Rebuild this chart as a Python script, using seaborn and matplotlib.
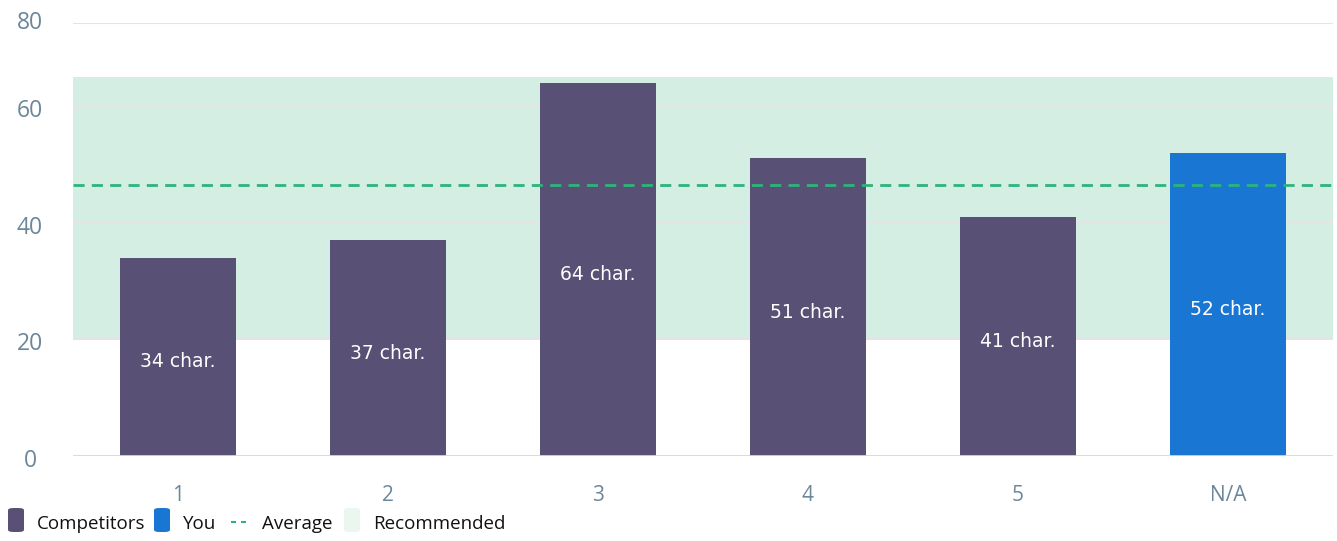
import matplotlib
matplotlib.use("Agg")
import matplotlib.pyplot as plt
import matplotlib.transforms as mtransforms
import seaborn as sns
import pandas as pd
from matplotlib.patches import FancyBboxPatch
from matplotlib.lines import Line2D

categories = ["1", "2", "3", "4", "5", "N/A"]
values = [34, 37, 64, 51, 41, 52]
groups = ["Competitors", "Competitors", "Competitors", "Competitors", "Competitors", "You"]
bar_labels = ["34 char.", "37 char.", "64 char.", "51 char.", "41 char.", "52 char."]
recommended = (20, 65)
ytick_vals = [0, 20, 40, 60, 74.2]
ytick_labels = ["0", "20", "40", "60", "80"]
legend_labels = ["Competitors", "You", "Average", "Recommended"]

c_comp = "#585175"
c_you = "#1a76d3"
c_avg = "#2db47c"
c_band = "#d5eee4"
c_tick = "#6b8799"

sns.set_theme(style="white")
plt.rcParams["font.family"] = ["Open Sans", "DejaVu Sans"]

df = pd.DataFrame({"cat": categories, "val": values, "grp": groups})
avg = sum(values) / len(values)

fig = plt.figure(figsize=(13.37, 5.41), dpi=100)
ax = fig.add_axes([73 / 1337, 1 - 456 / 541, (1333 - 73) / 1337, (456 - 23) / 541])

ax.axhspan(recommended[0], recommended[1], color=c_band, zorder=0, lw=0)
for v in ytick_vals[1:]:
    ax.axhline(v, color="#e4e4e4", lw=1.5, zorder=0.5)

sns.barplot(data=df, x="cat", y="val", hue="grp", palette={"Competitors": c_comp, "You": c_you},
            dodge=False, width=0.555, ax=ax, legend=False, zorder=2, saturation=1, linewidth=0)

for i, (v, lab) in enumerate(zip(values, bar_labels)):
    ax.annotate(lab, (i, v / 2), xytext=(0, -5), textcoords="offset pixels",
                ha="center", va="center", color="white", fontsize=13.5,
                family="DejaVu Sans", zorder=3)

ax.axhline(avg, color=c_avg, lw=2, ls=(0, (4, 2.6)), zorder=4)
ax.axhline(0, color="#cfd8e4", lw=2, zorder=5)

ax.set_ylim(0, 74.2)
ax.set_xlim(-0.5, len(categories) - 0.5)
ax.set_yticks(ytick_vals)
ax.set_yticklabels(ytick_labels)
ax.tick_params(axis="y", length=0, pad=31, labelsize=16.5, labelcolor=c_tick)
ax.tick_params(axis="x", length=0, pad=21, labelsize=15, labelcolor=c_tick)
shift = mtransforms.ScaledTranslation(0, -5 / 100, fig.dpi_scale_trans)
for k, lbl in enumerate(ax.get_yticklabels()):
    lbl.set_verticalalignment("center")
    lbl.set_horizontalalignment("center")
    if k < len(ytick_vals) - 1:
        lbl.set_transform(lbl.get_transform() + shift)
ax.set_xlabel("")
ax.set_ylabel("")
for s in ax.spines.values():
    s.set_visible(False)

# legend drawn manually in figure pixels
W, H = 1337, 541
def fx(px):
    return px / W
def fy(py):
    return 1 - py / H

items = [
    ("box", c_comp, 8, 37, legend_labels[0]),
    ("box", c_you, 154, 183, legend_labels[1]),
    ("dash", c_avg, 231, 262, legend_labels[2]),
    ("box", "#ebf6f1", 344, 373, legend_labels[3]),
]
for kind, col, mx, tx, lab in items:
    if kind == "box":
        p = FancyBboxPatch((fx(mx), fy(532)), fx(16), 24 / H,
                           boxstyle="round,pad=0,rounding_size=0.004",
                           transform=fig.transFigure, color=col, lw=0)
        fig.patches.append(p)
    else:
        for d0 in (mx, mx + 10):
            fig.lines.append(Line2D([fx(d0), fx(d0 + 5)], [fy(521.5), fy(521.5)],
                                    transform=fig.transFigure, color=c_avg, lw=1.5,
                                    solid_capstyle="butt"))
    fig.text(fx(tx), fy(524), lab, ha="left", va="center", fontsize=13.5, color="#111111")

fig.savefig("out.png", dpi=100)
